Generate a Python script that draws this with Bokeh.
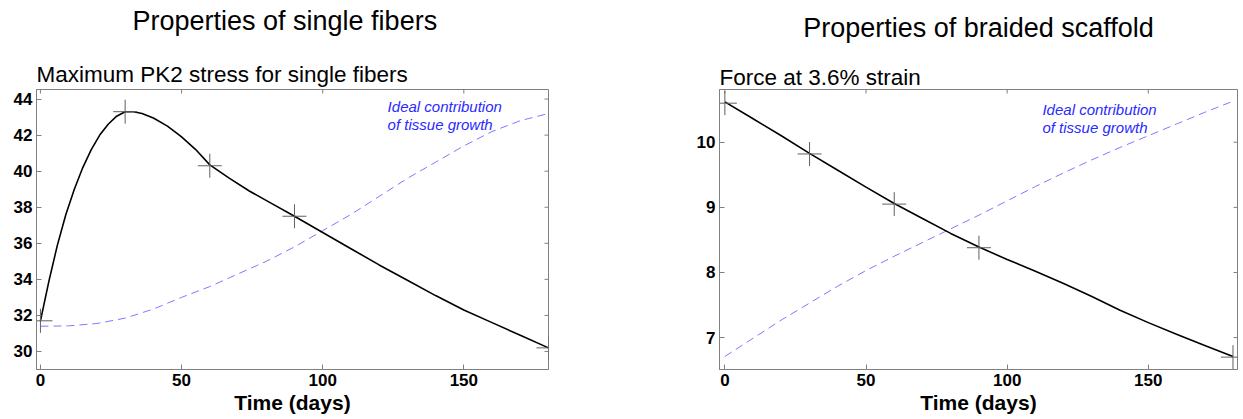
import math
from bokeh.plotting import figure
from bokeh.models import Title, Label, FixedTicker, Range1d
from bokeh.layouts import row
from bokeh.embed import file_html
from bokeh.resources import INLINE

# ---------------- data ----------------
fiber_days = [0, 3, 6, 9, 12, 15, 18, 21, 24, 27, 30, 33, 36, 40, 45, 50, 55, 60,
              67, 74, 82, 90, 100, 110, 120, 130, 140, 150, 160, 170, 180]
fiber_stress = [31.7, 33.9, 35.9, 37.6, 39.0, 40.2, 41.2, 42.0, 42.6, 43.05, 43.3, 43.3,
                43.2, 42.95, 42.5, 41.9, 41.2, 40.35, 39.6, 38.9, 38.2, 37.5, 36.6,
                35.7, 34.8, 33.95, 33.1, 32.3, 31.6, 30.9, 30.2]
fiber_meas_days = [0, 30, 60, 90, 180]
fiber_meas_stress = [31.7, 43.3, 40.3, 37.5, 30.2]
ideal_days = [0, 10, 20, 30, 40, 50, 60, 70, 80, 90, 100, 110, 120, 130, 140, 150, 160, 170, 180]
fiber_ideal = [31.4, 31.42, 31.55, 31.85, 32.35, 33.0, 33.6, 34.3, 35.0, 35.8, 36.7, 37.6,
               38.6, 39.6, 40.5, 41.4, 42.2, 42.8, 43.2]

scaffold_days = [0, 10, 20, 30, 40, 50, 60, 70, 80, 90, 100, 110, 120, 130, 140, 150, 160, 170, 180]
scaffold_force = [10.62, 10.36, 10.1, 9.83, 9.57, 9.31, 9.06, 8.83, 8.6, 8.39, 8.2, 8.02,
                  7.83, 7.63, 7.42, 7.23, 7.05, 6.88, 6.71]
scaffold_meas_days = [0, 30, 60, 90, 180]
scaffold_meas_force = [10.6, 9.82, 9.05, 8.38, 6.7]
scaffold_ideal = [6.71, 6.99, 7.27, 7.53, 7.79, 8.03, 8.25, 8.46, 8.67, 8.88, 9.1, 9.32,
                  9.53, 9.73, 9.92, 10.1, 10.28, 10.46, 10.63]

x_ticks = [0, 50, 100, 150]
fiber_y_ticks = [30, 32, 34, 36, 38, 40, 42, 44]
scaffold_y_ticks = [7, 8, 9, 10]

FONT = "Liberation Sans"
GRAY = "#808080"
BLUE_LINE = "#7b7bff"
BLUE_TEXT = "#2a2aff"


def style_axis(ax, ticks, standoff):
    ax.ticker = FixedTicker(ticks=ticks)
    ax.axis_line_color = GRAY
    ax.major_tick_line_color = GRAY
    ax.major_tick_in = 5
    ax.major_tick_out = 0
    ax.minor_tick_line_color = None
    ax.major_label_text_font = FONT
    ax.major_label_text_font_style = "bold"
    ax.major_label_text_font_size = "17px"
    ax.major_label_text_color = "black"
    ax.major_label_standoff = standoff


def make_fig(fw, fh, left, right, top, xr, yr, yticks, main, sub,
             sub_standoff, gap_standoff, main_standoff, main_align, main_offset):
    p = figure(frame_width=fw, frame_height=fh, output_backend="svg",
               toolbar_location=None, x_range=Range1d(*xr), y_range=Range1d(*yr),
               title=None, min_border_left=left, min_border_right=right,
               min_border_top=top, min_border_bottom=48)
    p.grid.visible = False
    p.outline_line_color = GRAY
    p.background_fill_color = "white"
    p.border_fill_color = "white"
    style_axis(p.xaxis[0], x_ticks, 4)
    style_axis(p.yaxis[0], yticks, 4)
    p.xaxis.axis_label = "Time (days)"
    p.xaxis.axis_label_text_font = FONT
    p.xaxis.axis_label_text_font_style = "bold"
    p.xaxis.axis_label_text_font_size = "21px"
    p.xaxis.axis_label_text_color = "black"
    p.xaxis.axis_label_standoff = 2
    # inward ticks on the top and right edges of the box
    p.scatter(x_ticks, [yr[1]] * len(x_ticks), marker="dash", angle=math.pi / 2,
              size=8, line_color=GRAY, line_width=1)
    p.scatter([xr[1]] * len(yticks), yticks, marker="dash", size=8,
              line_color=GRAY, line_width=1)
    # panel title (next to the box)
    p.add_layout(Title(text=sub, align="left", text_font=FONT, text_font_size="22.5px",
                       text_font_style="normal", text_color="black",
                       standoff=sub_standoff), "above")
    # blank gap between the two headings
    p.add_layout(Title(text=" ", text_font=FONT, text_font_size="10px",
                       standoff=gap_standoff), "above")
    # main heading
    p.add_layout(Title(text=main, align=main_align, text_font=FONT,
                       text_font_size="27px", text_font_style="normal",
                       text_color="black", standoff=main_standoff,
                       offset=main_offset), "above")
    return p


def annotate(p, x, y1, y2):
    for yy, txt in ((y1, "Ideal contribution"), (y2, "of tissue growth")):
        p.add_layout(Label(x=x, y=yy, text=txt, text_font=FONT,
                           text_font_size="15px", text_font_style="italic",
                           text_color=BLUE_TEXT, text_baseline="middle"))


p1 = make_fig(512, 280, 36, 112, 89, (-1.4, 180), (29.0, 44.53), fiber_y_ticks,
              "Properties of single fibers", "Maximum PK2 stress for single fibers",
              6, 8, 0, "left", 96)
p1.line(ideal_days, fiber_ideal, line_color=BLUE_LINE, line_width=1, line_dash="8 5")
p1.line(fiber_days, fiber_stress, line_color="black", line_width=1.6)
p1.scatter(fiber_meas_days, fiber_meas_stress, marker="cross", size=24,
           line_color="#606060", line_width=1)
annotate(p1, 123, 43.6, 42.6)

p2 = make_fig(518, 280, 59, 6, 89, (-1.9, 181.6), (6.51, 10.81), scaffold_y_ticks,
              "Properties of braided scaffold", "Force at 3.6% strain",
              0, 1, 11, "center", 0)
p2.line(ideal_days, scaffold_ideal, line_color=BLUE_LINE, line_width=1, line_dash="8 5")
p2.line(scaffold_days, scaffold_force, line_color="black", line_width=1.6)
p2.scatter(scaffold_meas_days, scaffold_meas_force, marker="cross", size=24,
           line_color="#606060", line_width=1)
annotate(p2, 112.5, 10.5, 10.23)

layout = row(p1, p2)
open("out.html", "w").write(file_html(layout, INLINE))
